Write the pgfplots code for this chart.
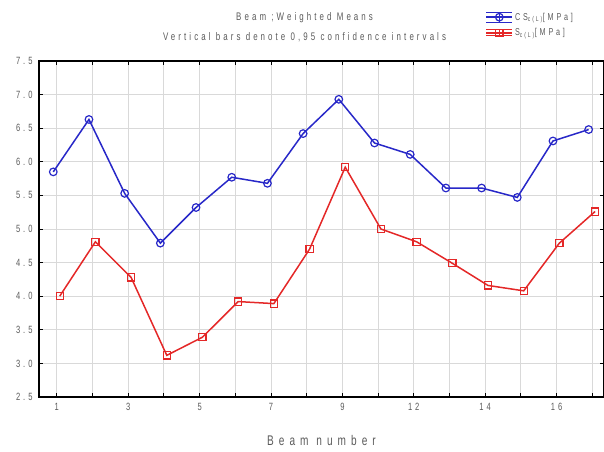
\documentclass[border=0pt]{standalone}
\usepackage{fontspec}
\setmainfont{Liberation Sans}
% narrow, widely spaced lettering for all chart text
\newfontfamily\statfont[FakeStretch=0.72,LetterSpace=28]{Liberation Sans}
\newfontfamily\statwide[FakeStretch=0.72,LetterSpace=36]{Liberation Sans}
\usepackage{pgfplots}
\pgfplotsset{compat=1.18}

\definecolor{csblue}{RGB}{40,40,200}
\definecolor{sred}{RGB}{228,40,40}
\definecolor{txtgray}{RGB}{90,90,90}

% legend symbol: mean marker with confidence whisker
\pgfplotsset{
  whisker legend/.style 2 args={
    legend image code/.code={
      \draw[##1, mark=none] (0pt,0pt) -- (26pt,0pt);
      \draw[##1, mark=none, line width=1.1pt] (0pt,#1) -- (26pt,#1)
        (0pt,-#2) -- (26pt,-#2) (13pt,-#2) -- (13pt,#1);
      \draw[##1] plot coordinates {(13pt,0pt)};
    }
  }
}

\begin{document}
\begin{tikzpicture}
\begin{axis}[
  at={(0,0)}, anchor=south west,
  scale only axis,
  width=565pt, height=336pt,
  xmin=0.5, xmax=16.33,
  ymin=2.5, ymax=7.5,
  xtick={1,...,16},
  xticklabels={1,,3,,5,,7,,9,,12,,14,,16,},
  ytick={2.5,3,...,7.5},
  /pgf/number format/assume math mode=true,
  tick label style={font=\fontsize{10.5}{11}\statfont, text=txtgray},
  xticklabel style={yshift=-3pt},
  yticklabel style={xshift=-3pt, /pgf/number format/.cd, fixed, fixed zerofill, precision=1},
  tick align=inside,
  major tick length=4pt,
  tick style={black, line width=1pt},
  grid=major,
  grid style={gray!30, line width=1pt},
  axis line style={black, line width=1.6pt},
  xlabel={Beam number},
  xlabel style={font=\fontsize{14}{15}\statwide, text=txtgray, at={(0.5,-0.128)}, anchor=center},
  title={Beam ;Weighted Means\\Vertical bars denote 0,95 confidence intervals},
  title style={font=\fontsize{11}{20}\statfont, text=txtgray, align=center, at={(0.47,1.083)}, anchor=center},
  legend style={at={(0.79,1.15)}, anchor=north west, draw=none, fill=none, inner sep=0pt,
    font=\fontsize{10}{10}\statfont, text=txtgray, row sep=3pt},
  legend cell align=left,
]
% CS_c(L) means, drawn slightly left of each beam position
\addplot[csblue, line width=1.5pt, mark=o, mark size=3.8pt, mark options={line width=1.2pt},
  whisker legend={5pt}{5pt}]
  coordinates {
  (0.9,5.85) (1.9,6.63) (2.9,5.53) (3.9,4.79) (4.9,5.32) (5.9,5.77) (6.9,5.68) (7.9,6.42)
  (8.9,6.93) (9.9,6.28) (10.9,6.11) (11.9,5.61) (12.9,5.61) (13.9,5.47) (14.9,6.31) (15.9,6.48)
  };
\addlegendentry{CS\textsubscript{c(L)}[MPa]}
% S_c(L) means, drawn slightly right of each beam position
\addplot[sred, line width=1.5pt, mark=square, mark size=3.6pt, mark options={line width=1.2pt},
  whisker legend={3.5pt}{3pt}]
  coordinates {
  (1.08,4.00) (2.08,4.81) (3.08,4.28) (4.08,3.12) (5.08,3.39) (6.08,3.92) (7.08,3.89) (8.08,4.70)
  (9.08,5.92) (10.08,5.00) (11.08,4.81) (12.08,4.49) (13.08,4.16) (14.08,4.08) (15.08,4.79) (16.08,5.26)
  };
\addlegendentry{S\textsubscript{c(L)}[MPa]}
\end{axis}
\pgfresetboundingbox
\path (-39pt,-54pt) rectangle (565pt,397pt);
\end{tikzpicture}
\end{document}
